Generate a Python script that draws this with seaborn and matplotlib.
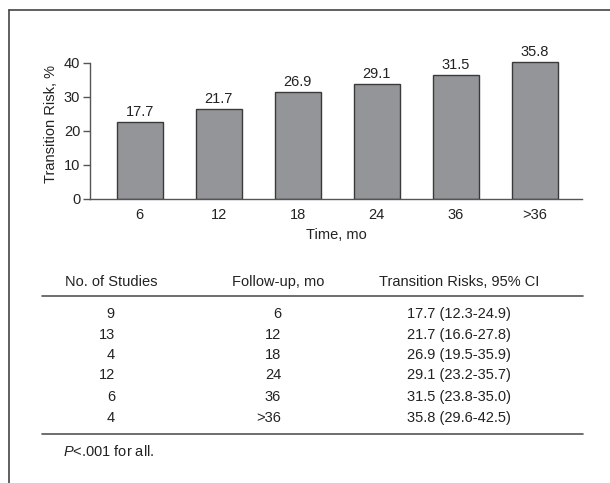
import matplotlib
matplotlib.use("Agg")
import matplotlib.pyplot as plt
import seaborn as sns
import pandas as pd
from matplotlib.lines import Line2D

# Data
months = ["6", "12", "18", "24", "36", ">36"]
bar_heights = [22.7, 26.4, 31.6, 33.8, 36.4, 40.4]
risk_labels = ["17.7", "21.7", "26.9", "29.1", "31.5", "35.8"]
n_studies = ["9", "13", "4", "12", "6", "4"]
ci_text = ["17.7 (12.3-24.9)", "21.7 (16.6-27.8)", "26.9 (19.5-35.9)",
           "29.1 (23.2-35.7)", "31.5 (23.8-35.0)", "35.8 (29.6-42.5)"]

sns.set_style("white")
plt.rcParams['font.family'] = ['Liberation Sans', 'DejaVu Sans']
plt.rcParams['mathtext.fontset'] = 'custom'
plt.rcParams['mathtext.it'] = 'Liberation Sans:italic'
plt.rcParams['mathtext.rm'] = 'Liberation Sans'
plt.rcParams['text.color'] = '#222222'
FS = 10.5

W, H = 610, 483
fig = plt.figure(figsize=(W / 100, H / 100), dpi=100)


def fx(px):
    return px / W


def fy(py):
    return 1 - py / H


# Bar chart
ax = fig.add_axes([fx(90), fy(199), fx(582) - fx(90), fy(49.4) - fy(199)])
df = pd.DataFrame({"Time": months, "Risk": bar_heights})
sns.barplot(data=df, x="Time", y="Risk", order=months, color="#939598",
            edgecolor="#3a3a3a", linewidth=1.0, width=0.58, saturation=1, ax=ax)
ax.bar_label(ax.containers[0], labels=risk_labels, padding=2, fontsize=FS, color="#222222")
ax.set_ylim(0, 44)
ax.set_xlim(-0.63, 5.6)
ax.set_yticks([0, 10, 20, 30, 40])
ax.spines["top"].set_visible(False)
ax.spines["right"].set_visible(False)
ax.spines["left"].set_bounds(0, 40)
for s in ("left", "bottom"):
    ax.spines[s].set_color("#555555")
    ax.spines[s].set_linewidth(1.0)
ax.tick_params(axis="y", left=True, length=5, width=1, color="#555555",
               labelsize=FS, labelcolor="#222222", pad=2)
ax.tick_params(axis="x", bottom=False, labelsize=FS, labelcolor="#222222", pad=3)
ax.set_xlabel("Time, mo", fontsize=FS, labelpad=4, color="#222222")
ax.set_ylabel("Transition Risk, %", fontsize=FS, labelpad=4, color="#222222")

# Frame lines
fig.add_artist(Line2D([fx(9), 1], [fy(10), fy(10)], color="#444444", lw=1.2))
fig.add_artist(Line2D([fx(9), fx(9)], [fy(10), 0], color="#444444", lw=1.2))

# Table
fig.text(fx(111), fy(282), "No. of Studies", ha="center", va="center", fontsize=FS)
fig.text(fx(278), fy(282), "Follow-up, mo", ha="center", va="center", fontsize=FS)
fig.text(fx(459.5), fy(282), "Transition Risks, 95% CI", ha="center", va="center", fontsize=FS)
fig.add_artist(Line2D([fx(42), fx(583)], [fy(296), fy(296)], color="#555555", lw=1.2))
row_y = [314, 334.7, 355, 375, 397, 418]
for i, y in enumerate(row_y):
    fig.text(fx(115), fy(y), n_studies[i], ha="right", va="center", fontsize=FS)
    fig.text(fx(281), fy(y), months[i], ha="right", va="center", fontsize=FS)
    fig.text(fx(459), fy(y), ci_text[i], ha="center", va="center", fontsize=FS)
fig.add_artist(Line2D([fx(42), fx(583)], [fy(434), fy(434)], color="#555555", lw=1.2))
fig.text(fx(63), fy(452), "$\\it{P}$<.001 for all.", ha="left", va="center", fontsize=FS)

fig.savefig("out.png", dpi=100)
